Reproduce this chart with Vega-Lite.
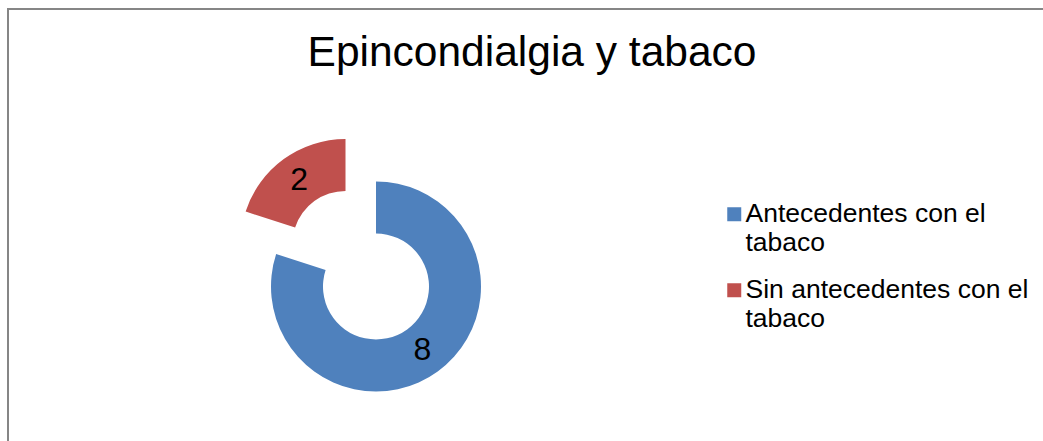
{
  "$schema": "https://vega.github.io/schema/vega-lite/v6.json",
  "width": 1048,
  "height": 440,
  "autosize": "none",
  "padding": {"left": 8, "top": 9, "right": 0, "bottom": 0},
  "background": "white",
  "view": {"stroke": "#868686", "strokeWidth": 2, "fill": "white"},
  "config": {
    "view": {"stroke": "#868686", "strokeWidth": 2},
    "font": "Liberation Sans"
  },
  "title": {
    "text": "Epincondialgia y tabaco",
    "font": "Liberation Sans",
    "fontSize": 42.5,
    "fontWeight": "normal",
    "color": "black",
    "anchor": "middle",
    "frame": "group",
    "baseline": "alphabetic",
    "offset": -54,
    "dy": 45
  },
  "data": {
    "values": [
      {"category": "Antecedentes con el tabaco", "value": 8},
      {"category": "Sin antecedentes con el tabaco", "value": 2}
    ]
  },
  "encoding": {
    "theta": {"field": "value", "type": "quantitative", "stack": true, "sort": "ascending"},
    "order": {"field": "category", "sort": "ascending"}
  },
  "layer": [
    {
      "mark": {"type": "arc", "innerRadius": 53, "outerRadius": 105, "x": 368, "y": 277.5},
      "encoding": {
        "color": {
          "field": "category",
          "type": "nominal",
          "scale": {"range": ["#4F81BD", "#C0504D"]},
          "legend": {
            "title": null,
            "orient": "none",
            "legendX": 713,
            "legendY": 192,
            "symbolType": "square",
            "symbolSize": 196,
            "symbolStrokeWidth": 0,
            "labelFont": "Liberation Sans",
            "labelFontSize": 26.5,
            "labelColor": "black",
            "labelLimit": 400,
            "labelOffset": -2,
            "rowPadding": 20,
            "labelExpr": "datum.label == 'Antecedentes con el tabaco' ? ['Antecedentes con el', 'tabaco'] : ['Sin antecedentes con el', 'tabaco']",
            "encode": {"labels": {"update": {"lineHeight": {"value": 31}}}}
          }
        },
        "opacity": {"condition": {"test": "datum.category == 'Antecedentes con el tabaco'", "value": 1}, "value": 0}
      }
    },
    {
      "mark": {"type": "arc", "innerRadius": 53, "outerRadius": 105, "x": 337.5, "y": 235},
      "encoding": {
        "color": {"field": "category", "type": "nominal"},
        "opacity": {"condition": {"test": "datum.category == 'Sin antecedentes con el tabaco'", "value": 1}, "value": 0}
      }
    },
    {
      "mark": {"type": "text", "x": 368, "y": 277.5, "radius": 79, "fontSize": 32, "font": "Liberation Sans", "color": "black", "align": "center", "baseline": "middle"},
      "encoding": {
        "text": {"condition": {"test": "datum.category == 'Antecedentes con el tabaco'", "field": "value", "type": "quantitative"}, "value": ""}
      }
    },
    {
      "mark": {"type": "text", "x": 337.5, "y": 235, "radius": 79, "fontSize": 32, "font": "Liberation Sans", "color": "black", "align": "center", "baseline": "middle"},
      "encoding": {
        "text": {"condition": {"test": "datum.category == 'Sin antecedentes con el tabaco'", "field": "value", "type": "quantitative"}, "value": ""}
      }
    }
  ]
}
